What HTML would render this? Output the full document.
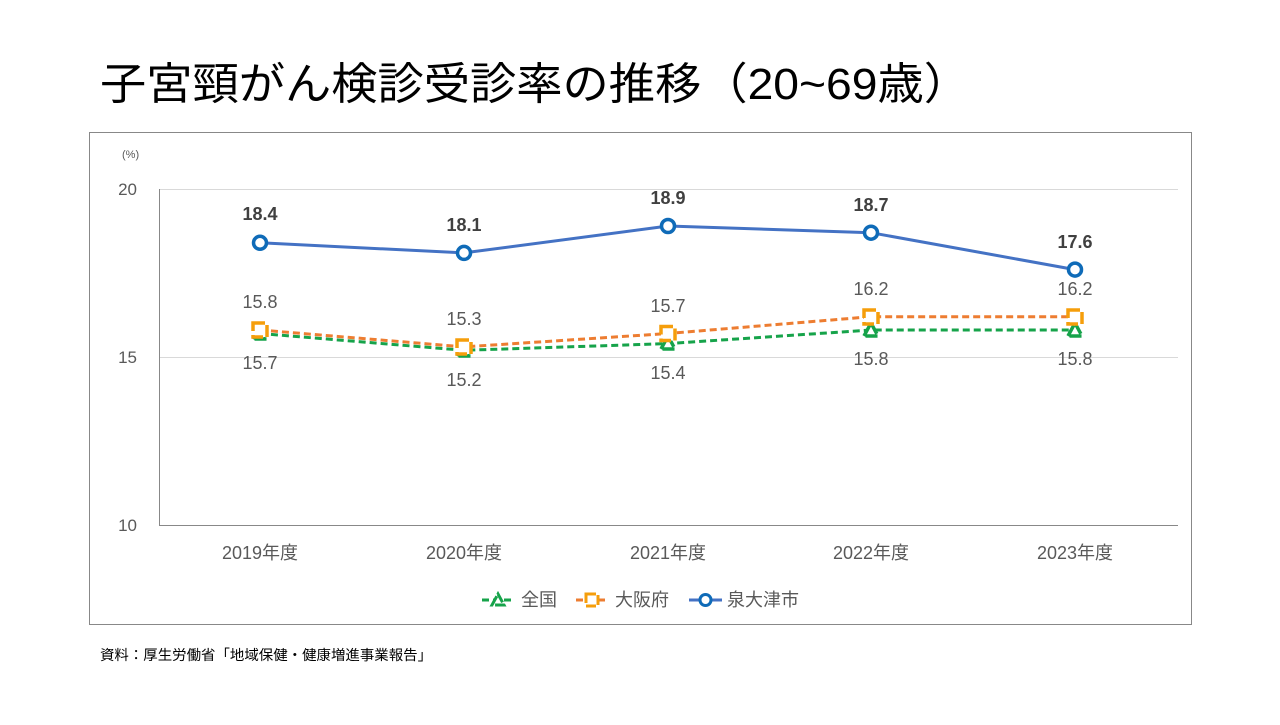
<!DOCTYPE html>
<html><head><meta charset="utf-8"><style>
body{margin:0;background:#fff;width:1280px;height:720px;overflow:hidden;font-family:"Liberation Sans","Noto Sans CJK JP",sans-serif;}
</style></head><body>
<svg width="1280" height="720" xmlns="http://www.w3.org/2000/svg" font-family="Liberation Sans, Noto Sans CJK JP, sans-serif">
<text x="100" y="99" font-size="44" fill="#000" textLength="870" lengthAdjust="spacingAndGlyphs">子宮頸がん検診受診率の推移（20~69歳）</text>
<rect x="89.5" y="132.5" width="1102" height="492" fill="#fff" stroke="#888" stroke-width="1"/>
<text x="122" y="158" font-size="11" fill="#595959">(%)</text>
<g stroke="#d9d9d9" stroke-width="1">
<line x1="159" y1="189.5" x2="1178" y2="189.5"/>
<line x1="159" y1="357.5" x2="1178" y2="357.5"/>
</g>
<line x1="159" y1="525.5" x2="1178" y2="525.5" stroke="#888"/>
<line x1="159.5" y1="189" x2="159.5" y2="525" stroke="#888"/>
<g font-size="17" fill="#595959" text-anchor="end">
<text x="137" y="195">20</text><text x="137" y="363">15</text><text x="137" y="531">10</text>
</g>
<g font-size="18" fill="#595959" text-anchor="middle">
<text x="260" y="559">2019年度</text><text x="464" y="559">2020年度</text><text x="668" y="559">2021年度</text><text x="871" y="559">2022年度</text><text x="1075" y="559">2023年度</text>
</g>
<polyline points="260,333.5 464,350.3 668,343.6 871,330 1075,330" fill="none" stroke="#16a34a" stroke-width="3" stroke-dasharray="7,4"/>
<g fill="#fff" stroke="#16a34a" stroke-width="3.5" stroke-dasharray="12,3">
<path d="M253,339 L260,326 L267,339 Z"/><path d="M457,356 L464,343 L471,356 Z"/><path d="M661,349 L668,336 L675,349 Z"/><path d="M864,336 L871,323 L878,336 Z"/><path d="M1068,336 L1075,323 L1082,336 Z"/>
</g>
<polyline points="260,330 464,346.9 668,333.5 871,316.7 1075,316.7" fill="none" stroke="#ed7d31" stroke-width="3" stroke-dasharray="7,4"/>
<g fill="#fff" stroke="#f59e0b" stroke-width="3.5" stroke-dasharray="12,4">
<rect x="253" y="323" width="14" height="14"/><rect x="457" y="340" width="14" height="14"/><rect x="661" y="326.5" width="14" height="14"/><rect x="864" y="310" width="14" height="14"/><rect x="1068" y="310" width="14" height="14"/>
</g>
<polyline points="260,242.8 464,252.9 668,226 871,232.7 1075,269.6" fill="none" stroke="#4472c4" stroke-width="3"/>
<g fill="#fff" stroke="#0f6bb8" stroke-width="3.5">
<circle cx="260" cy="242.8" r="6.5"/><circle cx="464" cy="252.9" r="6.5"/><circle cx="668" cy="226" r="6.5"/><circle cx="871" cy="232.7" r="6.5"/><circle cx="1075" cy="269.6" r="6.5"/>
</g>
<g font-size="18" fill="#404040" text-anchor="middle" font-weight="bold">
<text x="260" y="220">18.4</text><text x="464" y="231">18.1</text><text x="668" y="204">18.9</text><text x="871" y="211">18.7</text><text x="1075" y="248">17.6</text>
</g>
<g font-size="18" fill="#595959" text-anchor="middle">
<text x="260" y="308">15.8</text><text x="464" y="325">15.3</text><text x="668" y="312">15.7</text><text x="871" y="295">16.2</text><text x="1075" y="295">16.2</text>
<text x="260" y="369">15.7</text><text x="464" y="386">15.2</text><text x="668" y="379">15.4</text><text x="871" y="365">15.8</text><text x="1075" y="365">15.8</text>
</g>
<line x1="482" y1="600" x2="514" y2="600" stroke="#16a34a" stroke-width="3" stroke-dasharray="7,4"/>
<path d="M492,605 L498,594 L504,605 Z" fill="#fff" stroke="#16a34a" stroke-width="3" stroke-dasharray="10,2"/>
<text x="521" y="606" font-size="18" fill="#595959">全国</text>
<line x1="576" y1="600" x2="608" y2="600" stroke="#ed7d31" stroke-width="3" stroke-dasharray="7,4"/>
<rect x="586" y="594" width="12" height="12" fill="#fff" stroke="#f59e0b" stroke-width="3" stroke-dasharray="10,3"/>
<text x="615" y="606" font-size="18" fill="#595959">大阪府</text>
<line x1="689" y1="600" x2="722" y2="600" stroke="#4472c4" stroke-width="3"/>
<circle cx="705.5" cy="600" r="5.5" fill="#fff" stroke="#0f6bb8" stroke-width="3"/>
<text x="727" y="606" font-size="18" fill="#595959">泉大津市</text>
<text x="100" y="660" font-size="14" fill="#000" textLength="332" lengthAdjust="spacingAndGlyphs">資料：厚生労働省「地域保健・健康増進事業報告」</text>
</svg>
</body></html>
